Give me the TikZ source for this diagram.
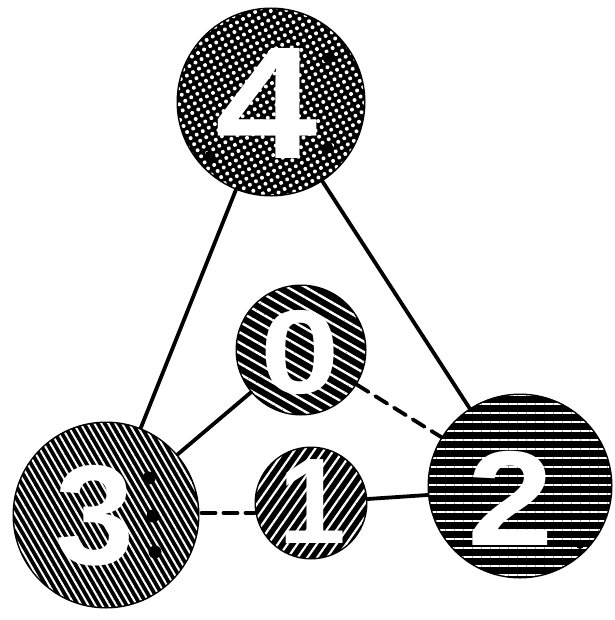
\documentclass[tikz,border=0pt]{standalone}
\usepackage{fontspec}
\newfontfamily\digitfont{Liberation Sans Bold}
\usetikzlibrary{patterns.meta}
\begin{document}
\begin{tikzpicture}[x=1pt,y=-1pt,
  ball/.style={circle,draw=black,line width=3pt,fill=black,inner sep=0pt},
  digit/.style={text=white,inner sep=0pt,font=\digitfont},
  link/.style={line width=3.8pt,line cap=round},
  dlink/.style={link,dash pattern=on 14pt off 8pt},
  blot/.style={circle,fill=black,inner sep=0pt,minimum size=11pt}]
\useasboundingbox (0,0) rectangle (614,620);
% circles
\node[ball,minimum size=186pt,postaction={pattern={Dots[radius=2pt,distance=7pt,angle=30]},pattern color=white}] (c4) at (271,102) {};
\node[ball,minimum size=128pt,postaction={pattern={Lines[angle=-30,distance=9pt,line width=2.4pt]},pattern color=white}] (c0) at (301,350) {};
\node[ball,minimum size=184pt,postaction={pattern={Lines[angle=-60,distance=6pt,line width=2pt]},pattern color=white}] (c3) at (106,515) {};
\node[ball,minimum size=182pt,postaction={pattern={Lines[angle=0,distance=9pt,line width=2.2pt]},pattern color=white}] (c2) at (520,486) {};
\node[ball,minimum size=110pt,postaction={pattern={Lines[angle=55,distance=8pt,line width=2.2pt]},pattern color=white}] (c1) at (311,503) {};
% dark blots
\node[blot] (b4a) at (328,58) {};
\node[blot] (b4b) at (210,156) {};
\node[blot] (b4c) at (328,148) {};
\node[blot,minimum size=13pt] (b3a) at (149,478) {};
\node[blot,minimum size=13pt] (b3b) at (153,516) {};
\node[blot,minimum size=13pt] (b3c) at (155,552) {};
\node[blot,minimum size=8pt] (b2a) at (580,545) {};
% numerals
\node[digit,font=\digitfont\fontsize{160}{160}\selectfont] (t4) at (267,103) {\scalebox{1.15}[1]{4}};
\node[digit,font=\digitfont\fontsize{119}{119}\selectfont] (t0) at (300,353) {\scalebox{1.2}[1]{0}};
\node[digit,font=\digitfont\fontsize{142}{142}\selectfont] (t3) at (95,516) {3};
\node[digit,font=\digitfont\fontsize{135}{135}\selectfont] (t2) at (511,498) {\scalebox{1.15}[1]{2}};
\node[digit,font=\digitfont\fontsize{122}{122}\selectfont] (t1) at (312,502) {1};
% connectors
\draw[link] (c4) -- (c3);
\draw[link] (c4) -- (c2);
\draw[link] (c0) -- (c3);
\draw[dlink] (c0) -- (c2);
\draw[dlink] (c3.east |- 0,513) ++(2,0) coordinate (d3) -- (c1.west |- 0,513) coordinate (d1);
\draw[link] (c1.east |- 0,499) coordinate (e1) -- (c2.west |- 0,495) coordinate (e2);
\end{tikzpicture}
\end{document}
